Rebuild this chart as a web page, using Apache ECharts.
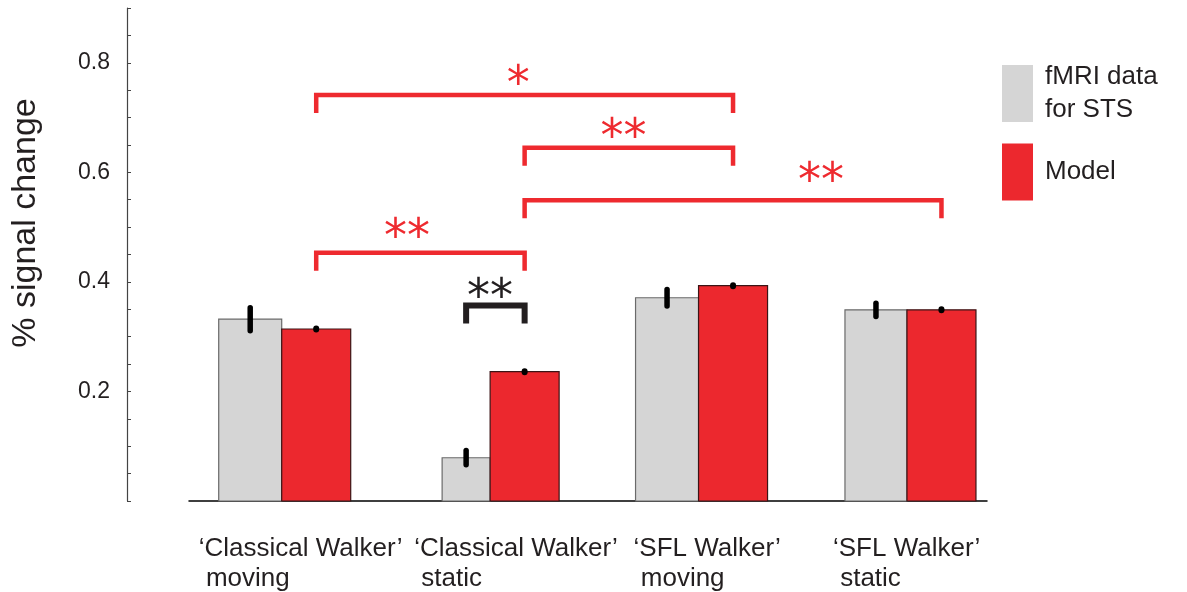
<!DOCTYPE html>
<html><head><meta charset="utf-8">
<script src="https://cdn.jsdelivr.net/npm/echarts@6/dist/echarts.min.js"></script>
<style>html,body{margin:0;padding:0;background:#fff}#chart{width:1187px;height:592px}</style>
</head><body><div id="chart"></div>
<script>
// ---------------- data ----------------
const categories = ['‘Classical Walker’\n moving', '‘Classical Walker’\n static', '‘SFL Walker’\n moving', '‘SFL Walker’\n static'];
const fmriValues = [0.332, 0.079, 0.371, 0.349];
const fmriErrors = [0.021, 0.013, 0.015, 0.012];
const modelValues = [0.314, 0.236, 0.393, 0.349];
const modelErrors = [0.001, 0.001, 0.001, 0.001];
const yTickLabels = [0.2, 0.4, 0.6, 0.8];
const seriesNames = ['fMRI data for STS', 'Model'];
// significance brackets: from/to = [category index, 'fmri'|'model'], level = y value of bracket
const sigFrom  = [[0, 'model'], [1, 'model'], [1, 'model'], [0, 'model'], [1, 'fmri']];
const sigTo    = [[2, 'model'], [2, 'model'], [3, 'model'], [1, 'model'], [1, 'model']];
const sigLevel = [0.741, 0.645, 0.549, 0.453, 0.357];
const sigText  = ['*', '**', '**', '**', '**'];

// ---------------- styles ----------------
const FONT = '"Liberation Sans", Arial, Helvetica, sans-serif';
const STAR_FONT = '"DejaVu Sans", sans-serif';
const TEXT = '#231f20';
const GRAY = '#d5d5d5', RED = '#ec282e', BRACKET_RED = '#ee2a2f';
const fmriWidthPx = [63, 48, 63, 62];
const modelWidthPx = [69, 69, 69, 69];
const labelDx = [-83, -76, -65, -74];
const sigColor = [BRACKET_RED, BRACKET_RED, BRACKET_RED, BRACKET_RED, TEXT];
const sigLineW = [4.5, 4.5, 4.5, 4.5, 6];
const sigStarPos = [0.485, 0.474, 0.711, 0.436, 0.41];
const sigStarDy = [20, 20, 28, 25, 17];
const legDrop = 18;

const chart = echarts.init(document.getElementById('chart'), null, {renderer: 'canvas'});

function barCenterPx(api, idx, kind) {
  const b = api.coord([idx, 0])[0];
  return kind === 'fmri' ? b - fmriWidthPx[idx] / 2 : b + modelWidthPx[idx] / 2;
}

function barRender(kind) {
  return function (params, api) {
    const i = api.value(0), v = api.value(1), e = api.value(2);
    const base = api.coord([i, 0]);
    const top = api.coord([i, v]);
    const w = kind === 'fmri' ? fmriWidthPx[i] : modelWidthPx[i];
    const x0 = kind === 'fmri' ? base[0] - w : base[0];
    const cx = x0 + w / 2;
    const eHi = api.coord([i, v + e])[1], eLo = api.coord([i, v - e])[1];
    return {
      type: 'group',
      children: [
        {type: 'rect', shape: {x: x0, y: top[1], width: w, height: base[1] - top[1]},
         style: {fill: kind === 'fmri' ? GRAY : RED, stroke: kind === 'fmri' ? '#6a6a6a' : '#3b1416', lineWidth: 1.2}},
        {type: 'line', shape: {x1: cx, y1: eHi, x2: cx, y2: eLo},
         style: {stroke: '#000', lineWidth: kind === 'fmri' ? 5.5 : 6, lineCap: 'round'}}
      ]
    };
  };
}

const option = {
  animation: false,
  backgroundColor: '#fff',
  textStyle: {fontFamily: FONT},
  grid: {left: 189, right: 200, top: 8, bottom: 91},
  xAxis: {
    type: 'value', min: -0.4448, max: 3.384,
    axisLine: {show: true, lineStyle: {color: '#000', width: 1.5}},
    axisTick: {show: false}, axisLabel: {show: false}, splitLine: {show: false}
  },
  yAxis: {
    type: 'value', min: 0, max: 0.9, interval: 0.05, offset: 62,
    axisLine: {show: true, onZero: false, lineStyle: {color: '#444', width: 1.2}},
    axisTick: {show: true, inside: true, length: 4, lineStyle: {color: '#444', width: 1}},
    axisLabel: {
      margin: 17, fontSize: 23, color: TEXT, fontFamily: FONT,
      formatter: function (v) {
        const t = yTickLabels.find(t => Math.abs(t - v) < 1e-6);
        return t === undefined ? '' : t.toFixed(1);
      }
    },
    splitLine: {show: false}
  },
  legend: {
    data: seriesNames,
    orient: 'vertical', left: 1002, top: 60.5, itemGap: 17, padding: 0,
    icon: 'rect', itemWidth: 31, itemHeight: 57,
    itemStyle: {borderWidth: 0},
    textStyle: {fontSize: 26, lineHeight: 33, color: TEXT, fontFamily: FONT, padding: [0, 0, 0, 7]},
    formatter: function (n) { return n === 'fMRI data for STS' ? 'fMRI data\nfor STS' : n; },
    selectedMode: false
  },
  graphic: [{
    type: 'text', x: 26, y: 223, rotation: Math.PI / 2,
    style: {text: '% signal change', fontSize: 34, fill: TEXT, fontFamily: FONT, align: 'center', verticalAlign: 'middle'}
  }],
  series: [
    {
      name: seriesNames[0], type: 'custom', silent: true, itemStyle: {color: GRAY},
      data: fmriValues.map((v, i) => [i, v, fmriErrors[i]]),
      renderItem: barRender('fmri'), z: 2
    },
    {
      name: seriesNames[1], type: 'custom', silent: true, itemStyle: {color: RED},
      data: modelValues.map((v, i) => [i, v, modelErrors[i]]),
      renderItem: barRender('model'), z: 3
    },
    {
      name: 'labels', type: 'custom', silent: true,
      data: categories.map((c, i) => [i, 0]),
      renderItem: function (params, api) {
        const i = api.value(0);
        const p = api.coord([i, 0]);
        return {type: 'text', x: p[0] + labelDx[i], y: p[1] + 33,
          style: {text: categories[i], fontSize: 26, lineHeight: 30, fill: TEXT, fontFamily: FONT, align: 'left', verticalAlign: 'top'}};
      }
    },
    {
      name: 'significance', type: 'custom', silent: true, z: 5,
      data: sigLevel.map((l, k) => [k, l]),
      renderItem: function (params, api) {
        const k = api.value(0), lvl = api.value(1);
        const x1 = barCenterPx(api, sigFrom[k][0], sigFrom[k][1]);
        const x2 = barCenterPx(api, sigTo[k][0], sigTo[k][1]);
        const y = api.coord([0, lvl])[1];
        const sx = x1 + (x2 - x1) * sigStarPos[k];
        return {type: 'group', children: [
          {type: 'polyline', shape: {points: [[x1, y + legDrop], [x1, y], [x2, y], [x2, y + legDrop]]},
           style: {stroke: sigColor[k], lineWidth: sigLineW[k], fill: null, lineJoin: 'miter'}},
          {type: 'text', x: sx, y: y - sigStarDy[k] + 11,
           style: {text: sigText[k], fontSize: 46, fill: sigColor[k], fontFamily: STAR_FONT, align: 'center', verticalAlign: 'middle'}}
        ]};
      }
    }
  ]
};
chart.setOption(option);
</script>
</body></html>
